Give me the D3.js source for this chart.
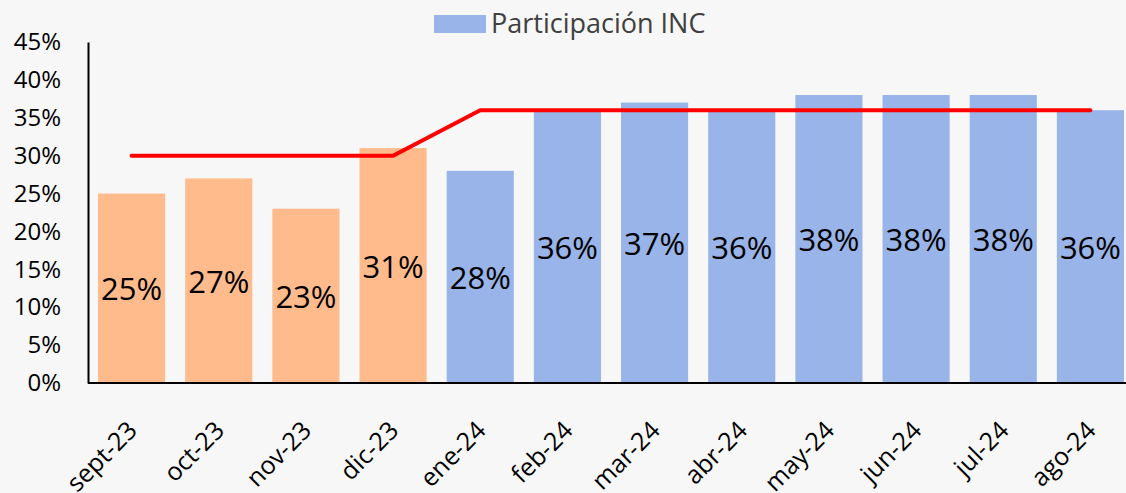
<!DOCTYPE html>
<html>
<head>
<meta charset="utf-8">
<script src="https://cdn.jsdelivr.net/npm/d3@7"></script>
<style>
  html, body { margin: 0; padding: 0; background: #f7f7f7; }
  svg { display: block; font-family: "Open Sans", "Noto Sans", sans-serif; }
</style>
</head>
<body>
<div id="container"></div>
<script>
"use strict";

var months = ["sept-23", "oct-23", "nov-23", "dic-23", "ene-24", "feb-24", "mar-24", "abr-24", "may-24", "jun-24", "jul-24", "ago-24"];
var participacion = [25, 27, 23, 31, 28, 36, 37, 36, 38, 38, 38, 36];
var meta = [30, 30, 30, 30, 36, 36, 36, 36, 36, 36, 36, 36];
var periodo = ["2023", "2023", "2023", "2023", "2024", "2024", "2024", "2024", "2024", "2024", "2024", "2024"];
var yTicks = [0, 5, 10, 15, 20, 25, 30, 35, 40, 45];
var legendLabel = "Participación INC";

var width = 1126;
var height = 493;
var colors = { "2023": "#ffbb8c", "2024": "#98b4e8" };

var svg = d3.select("#container").append("svg").attr("width", width).attr("height", height);
svg.append("rect").attr("width", width).attr("height", height).attr("fill", "#f7f7f7");

var x = d3.scaleBand().domain(months).range([88, 1134]).paddingInner(0.23).paddingOuter(0.115);
var y = d3.scaleLinear().domain([0, 45]).range([383, 42]);

// bars
svg.append("g").selectAll("rect").data(months).enter().append("rect")
    .attr("x", function (d) { return x(d); })
    .attr("y", function (d, i) { return y(participacion[i]); })
    .attr("width", x.bandwidth())
    .attr("height", function (d, i) { return y(0) - y(participacion[i]); })
    .attr("fill", function (d, i) { return colors[periodo[i]]; });

// value labels, centred in the bar
svg.append("g").selectAll("text").data(months).enter().append("text")
    .attr("x", function (d) { return x(d) + x.bandwidth() / 2; })
    .attr("y", function (d, i) { return (y(participacion[i]) + y(0)) / 2 + 12; })
    .attr("text-anchor", "middle")
    .attr("font-size", 31)
    .attr("fill", "#000")
    .text(function (d, i) { return participacion[i] + "%"; });

// target line
var line = d3.line()
    .x(function (d, i) { return x(months[i]) + x.bandwidth() / 2; })
    .y(function (d) { return y(d); });
svg.append("path").datum(meta)
    .attr("d", line)
    .attr("fill", "none")
    .attr("stroke", "#ff0000")
    .attr("stroke-width", 4)
    .attr("stroke-linecap", "round");

// y axis
var yAxis = svg.append("g").attr("transform", "translate(88,0)")
    .call(d3.axisLeft(y).tickValues(yTicks).tickSize(0).tickPadding(27).tickFormat(function (d) { return d + "%"; }));
yAxis.select(".domain").attr("stroke", "#000").attr("stroke-width", 2);
yAxis.selectAll("text").attr("font-size", 24).attr("fill", "#000").attr("font-family", "Open Sans, Noto Sans, sans-serif");

// x axis
var xAxis = svg.append("g").attr("transform", "translate(0,383)")
    .call(d3.axisBottom(x).tickSize(0).tickPadding(0));
xAxis.select(".domain").attr("d", "M88,0H1126").attr("stroke", "#000").attr("stroke-width", 2);
xAxis.selectAll("text")
    .attr("font-size", 25)
    .attr("fill", "#000")
    .attr("font-family", "Open Sans, Noto Sans, sans-serif")
    .attr("text-anchor", "end")
    .attr("dy", 0)
    .attr("transform", "translate(7,49) rotate(-45)");

// legend
var legend = svg.append("g");
legend.append("rect").attr("x", 434).attr("y", 15).attr("width", 52).attr("height", 18).attr("fill", colors["2024"]);
legend.append("text").attr("x", 491).attr("y", 33).attr("font-size", 27).attr("fill", "#404040").text(legendLabel);
</script>
</body>
</html>
